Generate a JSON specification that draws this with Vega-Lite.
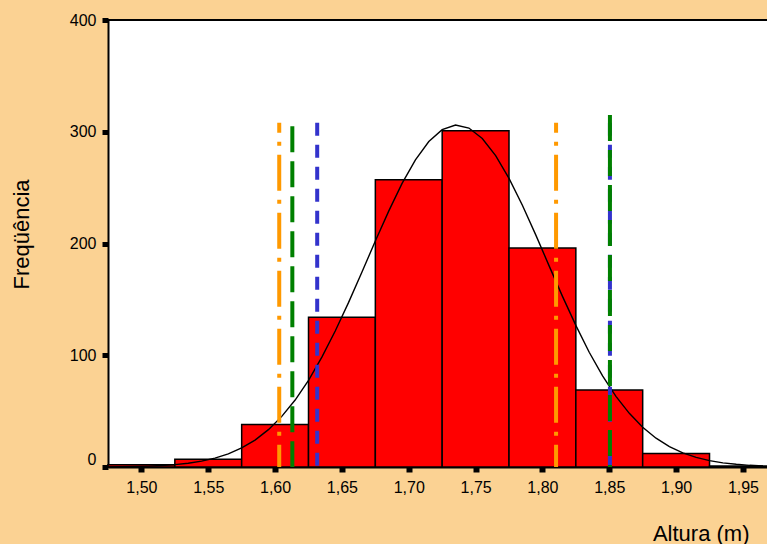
{
  "$schema": "https://vega.github.io/schema/vega-lite/v6.json",
  "width": 659,
  "height": 447,
  "autosize": {"type": "none"},
  "padding": {"left": 108, "top": 20, "right": 0, "bottom": 77},
  "background": "#FBD293",
  "config": {
    "view": {"fill": "white", "stroke": null},
    "font": "Liberation Sans",
    "axis": {
      "grid": false,
      "domainColor": "black",
      "domainWidth": 2,
      "tickColor": "black",
      "labelColor": "black",
      "labelFont": "Liberation Sans",
      "labelFontSize": 16,
      "titleFont": "Liberation Sans",
      "titleFontSize": 22,
      "titleFontWeight": "normal",
      "titleColor": "black"
    }
  },
  "datasets": {
    "bins": [
      {"bin_start": 1.475, "bin_end": 1.525, "count": 2},
      {"bin_start": 1.525, "bin_end": 1.575, "count": 7},
      {"bin_start": 1.575, "bin_end": 1.625, "count": 38},
      {"bin_start": 1.625, "bin_end": 1.675, "count": 134},
      {"bin_start": 1.675, "bin_end": 1.725, "count": 257},
      {"bin_start": 1.725, "bin_end": 1.775, "count": 301},
      {"bin_start": 1.775, "bin_end": 1.825, "count": 196},
      {"bin_start": 1.825, "bin_end": 1.875, "count": 69},
      {"bin_start": 1.875, "bin_end": 1.925, "count": 12},
      {"bin_start": 1.925, "bin_end": 1.975, "count": 1}
    ],
    "curve": [
      {"h": 1.475, "f": 0.15}, {"h": 1.485, "f": 0.27}, {"h": 1.495, "f": 0.47},
      {"h": 1.505, "f": 0.8}, {"h": 1.515, "f": 1.33}, {"h": 1.525, "f": 2.15},
      {"h": 1.535, "f": 3.4}, {"h": 1.545, "f": 5.26}, {"h": 1.555, "f": 7.96},
      {"h": 1.565, "f": 11.8}, {"h": 1.575, "f": 17.1}, {"h": 1.585, "f": 24.1},
      {"h": 1.595, "f": 33.4}, {"h": 1.605, "f": 45.3}, {"h": 1.615, "f": 59.9},
      {"h": 1.625, "f": 77.6}, {"h": 1.635, "f": 98.3}, {"h": 1.645, "f": 121.7},
      {"h": 1.655, "f": 147.3}, {"h": 1.665, "f": 174.5}, {"h": 1.675, "f": 202.2},
      {"h": 1.685, "f": 229.0}, {"h": 1.695, "f": 253.8}, {"h": 1.705, "f": 274.9},
      {"h": 1.715, "f": 291.3}, {"h": 1.725, "f": 301.9}, {"h": 1.735, "f": 306.0},
      {"h": 1.745, "f": 303.3}, {"h": 1.755, "f": 293.9}, {"h": 1.765, "f": 278.6},
      {"h": 1.775, "f": 258.3}, {"h": 1.785, "f": 234.2}, {"h": 1.795, "f": 207.7},
      {"h": 1.805, "f": 180.0}, {"h": 1.815, "f": 152.7}, {"h": 1.825, "f": 126.7},
      {"h": 1.835, "f": 102.7}, {"h": 1.845, "f": 81.5}, {"h": 1.855, "f": 63.2},
      {"h": 1.865, "f": 48.0}, {"h": 1.875, "f": 35.6}, {"h": 1.885, "f": 25.8},
      {"h": 1.895, "f": 18.3}, {"h": 1.905, "f": 12.7}, {"h": 1.915, "f": 8.6},
      {"h": 1.925, "f": 5.7}, {"h": 1.935, "f": 3.7}, {"h": 1.945, "f": 2.4},
      {"h": 1.955, "f": 1.5}, {"h": 1.965, "f": 0.9}
    ],
    "blue": [{"h": 1.6315, "top": 308}, {"h": 1.8505, "top": 308}],
    "green": [{"h": 1.6129, "top": 305}, {"h": 1.8505, "top": 315}],
    "orange": [{"h": 1.6031, "top": 308}, {"h": 1.8102, "top": 308}]
  },
  "layer": [
    {
      "data": {"name": "bins"},
      "mark": {"type": "rect", "fill": "#FF0000", "stroke": "black", "strokeWidth": 1.5},
      "encoding": {
        "x": {
          "field": "bin_start", "type": "quantitative",
          "scale": {"domain": [1.475, 1.968], "nice": false, "zero": false, "padding": 0},
          "axis": {
            "values": [1.5, 1.55, 1.6, 1.65, 1.7, 1.75, 1.8, 1.85, 1.9, 1.95],
            "labelExpr": "replace(format(datum.value, '.2f'), '.', ',')",
            "tickSize": 5, "tickWidth": 6, "labelPadding": 7,
            "title": "Altura (m)",
            "titleX": 641, "titleY": 73, "titleAlign": "right", "titleBaseline": "alphabetic", "titleAnchor": null
          }
        },
        "x2": {"field": "bin_end"},
        "y": {
          "field": "count", "type": "quantitative",
          "scale": {"domain": [0, 400], "nice": false, "padding": 0},
          "axis": {
            "values": [0, 100, 200, 300, 400],
            "tickSize": 6, "tickWidth": 5, "labelPadding": 6,
            "labelBaseline": {"condition": {"test": "datum.value == 0", "value": "bottom"}, "value": "middle"},
            "title": "Freqüência",
            "titleAngle": 270, "titleX": -80, "titleY": 214, "titleAlign": "center", "titleBaseline": "alphabetic", "titleAnchor": null
          }
        },
        "y2": {"datum": 0}
      }
    },
    {
      "data": {"name": "curve"},
      "mark": {"type": "line", "color": "black", "strokeWidth": 1.4},
      "encoding": {
        "x": {"field": "h", "type": "quantitative"},
        "y": {"field": "f", "type": "quantitative"}
      }
    },
    {
      "data": {"values": [{"v": 400}]},
      "mark": {"type": "rule", "color": "black", "strokeWidth": 2},
      "encoding": {"y": {"field": "v", "type": "quantitative"}}
    },
    {
      "data": {"name": "blue"},
      "mark": {"type": "rule", "color": "#3333CC", "strokeWidth": 4, "strokeDash": [13, 9]},
      "encoding": {
        "x": {"field": "h", "type": "quantitative"},
        "y": {"field": "top", "type": "quantitative"},
        "y2": {"datum": 0}
      }
    },
    {
      "data": {"name": "green"},
      "mark": {"type": "rule", "color": "#008000", "strokeWidth": 4, "strokeDash": [26, 9]},
      "encoding": {
        "x": {"field": "h", "type": "quantitative"},
        "y": {"field": "top", "type": "quantitative"},
        "y2": {"datum": 0}
      }
    },
    {
      "data": {"name": "orange"},
      "mark": {"type": "rule", "color": "#FF9900", "strokeWidth": 4, "strokeDash": [10, 9, 4, 9, 26, 0]},
      "encoding": {
        "x": {"field": "h", "type": "quantitative"},
        "y": {"field": "top", "type": "quantitative"},
        "y2": {"datum": 0}
      }
    }
  ]
}
